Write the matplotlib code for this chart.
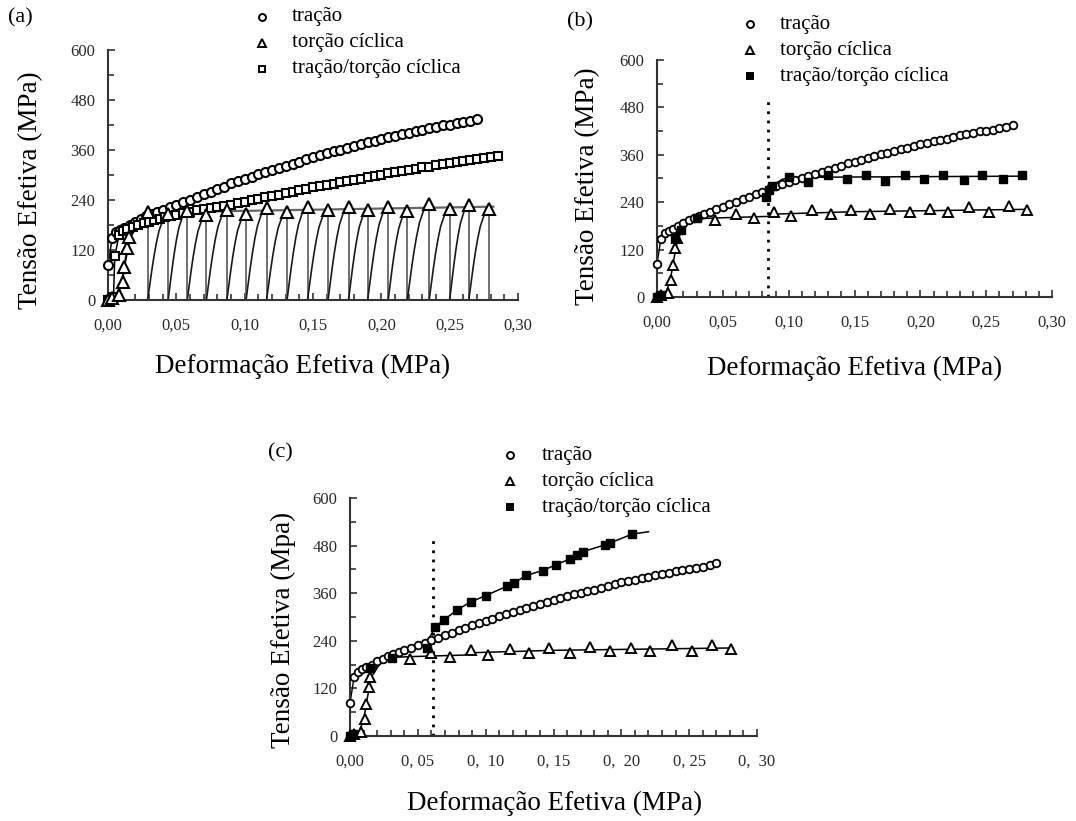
import numpy as np
import matplotlib
matplotlib.use('Agg')
import matplotlib.pyplot as plt
from matplotlib.lines import Line2D

plt.rcParams['font.family'] = ['Liberation Serif', 'DejaVu Serif']

W, H = 1076, 821

# tração (same test in the three panels)
tracao_x = [0.000, 0.003, 0.006, 0.009, 0.012, 0.016, 0.020, 0.024, 0.028, 0.032,
            0.036, 0.040, 0.045, 0.050, 0.055, 0.060, 0.065, 0.070, 0.075, 0.080,
            0.085, 0.090, 0.095, 0.100, 0.105, 0.110, 0.115, 0.120, 0.125, 0.130,
            0.135, 0.140, 0.145, 0.150, 0.155, 0.160, 0.165, 0.170, 0.175, 0.180,
            0.185, 0.190, 0.195, 0.200, 0.205, 0.210, 0.215, 0.220, 0.225, 0.230,
            0.235, 0.240, 0.245, 0.250, 0.255, 0.260, 0.265, 0.270]
tracao_y = [83, 148, 162, 168, 173, 180, 188, 195, 201, 206,
            211, 216, 223, 229, 235, 241, 248, 254, 260, 266,
            272, 280, 285, 291, 296, 302, 307, 312, 317, 322,
            327, 332, 338, 342, 347, 352, 357, 361, 365, 369,
            374, 378, 382, 387, 391, 394, 398, 401, 405, 409,
            412, 415, 419, 421, 424, 427, 430, 435]

# torção cíclica, (b) and (c)
torcao_x = [0.000, 0.003, 0.008, 0.011, 0.012, 0.014, 0.015, 0.044, 0.060, 0.074,
            0.089, 0.102, 0.118, 0.132, 0.147, 0.162, 0.177, 0.192, 0.207, 0.221,
            0.237, 0.252, 0.267, 0.281]
torcao_y = [0, 4, 11, 42, 80, 124, 150, 195, 210, 199,
            216, 205, 219, 209, 221, 209, 224, 214, 223, 214,
            229, 214, 230, 219]
torcao_fit_x = [0.000, 0.006, 0.010, 0.013, 0.016, 0.022, 0.030, 0.044, 0.084, 0.090, 0.150, 0.282]
torcao_fit_y = [0, 5, 40, 100, 150, 182, 198, 200, 204, 210, 216, 222]

# torção cíclica, panel (a): first loading + peaks of each cycle
torcao_a_x = [0.000, 0.003, 0.008, 0.011, 0.012, 0.014, 0.015]
torcao_a_y = [0, 4, 11, 42, 80, 124, 150]
pico_a_x = [0.029, 0.044, 0.058, 0.072, 0.087, 0.101, 0.116, 0.131, 0.146, 0.161,
            0.176, 0.190, 0.205, 0.219, 0.235, 0.250, 0.264, 0.279]
pico_a_y = [210, 206, 214, 204, 216, 206, 220, 212, 224, 216,
            224, 216, 224, 214, 230, 218, 227, 218]
# shape of one reloading branch (fraction of cycle width / of peak stress)
recarga_fx = [0, 0.10, 0.20, 0.31, 0.43, 0.56, 0.74, 1.0]
recarga_fy = [0, 0.17, 0.34, 0.51, 0.67, 0.81, 0.93, 1.0]
patamar_a_x = [0.029, 0.282]
patamar_a_y = [210, 224]

# tração/torção cíclica (a)
tt_a_x = [0.000, 0.002, 0.004, 0.005, 0.008, 0.011, 0.014, 0.018, 0.022, 0.026,
          0.030, 0.034, 0.038, 0.042, 0.046, 0.050, 0.055, 0.060, 0.065, 0.070,
          0.075, 0.080, 0.085, 0.090, 0.095, 0.100, 0.105, 0.110, 0.115, 0.120,
          0.125, 0.130, 0.135, 0.140, 0.145, 0.150, 0.155, 0.160, 0.165, 0.170,
          0.175, 0.180, 0.185, 0.190, 0.195, 0.200, 0.205, 0.210, 0.215, 0.220,
          0.225, 0.230, 0.235, 0.240, 0.245, 0.250, 0.255, 0.260, 0.265, 0.270,
          0.275, 0.280, 0.285]
tt_a_y = [0, 0, 8, 105, 155, 165, 170, 176, 181, 185,
          188, 192, 195, 199, 202, 205, 208, 212, 215, 218,
          221, 223, 226, 229, 232, 235, 239, 242, 246, 249,
          253, 256, 260, 263, 266, 270, 273, 276, 279, 282,
          285, 288, 291, 295, 298, 301, 304, 307, 310, 312,
          315, 318, 320, 323, 326, 329, 331, 333, 336, 338,
          340, 342, 345]

# tração/torção cíclica (b)
tt_b_x = [0.000, 0.003, 0.014, 0.018, 0.030, 0.083, 0.085, 0.087, 0.100, 0.115,
          0.130, 0.144, 0.159, 0.173, 0.188, 0.203, 0.217, 0.233, 0.247, 0.263, 0.277]
tt_b_y = [0, 4, 150, 169, 199, 253, 270, 280, 303, 291,
          310, 299, 310, 293, 310, 299, 310, 295, 310, 299, 310]
tt_b_fit_x = [0.083, 0.087, 0.095, 0.105, 0.280]
tt_b_fit_y = [266, 280, 298, 303, 306]

# tração/torção cíclica (c)
tt_c_x = [0.000, 0.002, 0.015, 0.031, 0.057, 0.063, 0.069, 0.079, 0.089, 0.100,
          0.116, 0.121, 0.130, 0.142, 0.152, 0.162, 0.167, 0.172, 0.188, 0.192, 0.208]
tt_c_y = [0, 4, 171, 196, 223, 276, 292, 318, 338, 354,
          378, 386, 405, 417, 432, 446, 457, 465, 482, 487, 509]
tt_c_fit_x = [0.057, 0.063, 0.069, 0.079, 0.089, 0.100, 0.116, 0.121, 0.130, 0.142,
              0.152, 0.162, 0.167, 0.172, 0.188, 0.192, 0.208, 0.220]
tt_c_fit_y = [238, 276, 292, 318, 338, 354, 378, 386, 405, 417,
              432, 446, 457, 465, 482, 487, 509, 515]

y_ticks = [0, 120, 240, 360, 480, 600]
x_ticks = [0.00, 0.05, 0.10, 0.15, 0.20, 0.25, 0.30]
x_labels_ab = ['0,00', '0,05', '0,10', '0,15', '0,20', '0,25', '0,30']
x_labels_c = ['0,00', '0, 05', '0,  10', '0, 15', '0,  20', '0, 25', '0,  30']
legenda = ['tração', 'torção cíclica', 'tração/torção cíclica']

fig = plt.figure(figsize=(W / 100, H / 100), dpi=100)


def eixos(left, top, right, bottom, xlabels):
    ax = fig.add_axes([left / W, 1 - bottom / H, (right - left) / W, (bottom - top) / H])
    ax.set_xlim(0, 0.30)
    ax.set_ylim(0, 600)
    for s in ['top', 'right']:
        ax.spines[s].set_visible(False)
    for s in ['left', 'bottom']:
        ax.spines[s].set_linewidth(1.5)
        ax.spines[s].set_color('#333333')
    ax.set_xticks(x_ticks)
    ax.set_xticklabels(xlabels)
    ax.set_xticks(np.arange(0, 0.301, 0.01), minor=True)
    ax.set_yticks(y_ticks)
    ax.set_yticks(np.arange(0, 601, 60), minor=True)
    ax.tick_params(which='both', direction='in', color='#333333', width=1.2,
                   labelsize=12, labelcolor='#2a2a2a')
    ax.tick_params(which='major', length=5)
    ax.tick_params(which='minor', length=4)
    ax.tick_params(axis='x', pad=13)
    ax.tick_params(axis='y', pad=9)
    ax.patch.set_alpha(0)
    return ax


def texto(x, y, s, size, **kw):
    fig.text(x / W, 1 - y / H, s, fontsize=size, **kw)


def legenda_painel(xm, xt, ys, cheio):
    estilos = [dict(marker='o', ms=5, mfc='white'),
               dict(marker='^', ms=6, mfc='white'),
               dict(marker='s', ms=5, mfc='black' if cheio else 'white')]
    for y, st, lab in zip(ys, estilos, legenda):
        fig.add_artist(Line2D([xm / W], [1 - y / H], transform=fig.transFigure,
                              mec='black', mew=1.4, ls='none', **st))
        texto(xt, y, lab, 15, va='center', ha='left')


circ = dict(marker='o', ms=6.5, mfc='white', mec='black', mew=1.5, ls='none', clip_on=False, zorder=4)
tri = dict(marker='^', ms=8, mfc='white', mec='black', mew=1.5, ls='none', clip_on=False, zorder=5)

# ---------------- (a) ----------------
ax = eixos(108, 50, 518, 300, x_labels_ab)
ax.plot(tracao_x, tracao_y, color='black', lw=1.1)
ax.plot(tracao_x, tracao_y, **circ)
ax.plot(tt_a_x, tt_a_y, color='black', lw=1.1)
ax.plot(tt_a_x, tt_a_y, marker='s', ms=6, mfc='white', mec='black', mew=1.5,
        ls='none', clip_on=False, zorder=4)
ax.plot(torcao_fit_x[:7] + [pico_a_x[0]], torcao_fit_y[:7] + [pico_a_y[0]], color='black', lw=1.6)
ax.plot(patamar_a_x, patamar_a_y, color='#666666', lw=1.6)
for i in range(len(pico_a_x)):
    ax.plot([pico_a_x[i], pico_a_x[i]], [pico_a_y[i], 0], color='#707070', lw=1.4)
    if i + 1 < len(pico_a_x):
        dx = pico_a_x[i + 1] - pico_a_x[i]
        ax.plot([pico_a_x[i] + f * dx for f in recarga_fx],
                [f * pico_a_y[i + 1] for f in recarga_fy], color='#1a1a1a', lw=1.2)
ax.plot(torcao_a_x + pico_a_x, torcao_a_y + pico_a_y, **tri)

texto(8, 18, '(a)', 16, va='center')
legenda_painel(262, 292, [17, 43, 69], False)
texto(31, 190, 'Tensão Efetiva (MPa)', 19.5, rotation=90, ha='center', va='center')
texto(303, 366, 'Deformação Efetiva (MPa)', 19.5, ha='center', va='center')

# ---------------- (b) ----------------
circ_s = dict(circ, ms=5.5, mew=1.3)
tri_s = dict(tri, ms=7, mew=1.4)
ax = eixos(657, 60, 1052, 297, x_labels_ab)
ax.plot([0.084, 0.084], [0, 500], color='black', lw=2.0, ls=(0, (1, 2.3)))
ax.plot(tracao_x, tracao_y, color='black', lw=1.0)
ax.plot(tracao_x, tracao_y, **circ_s)
ax.plot(torcao_fit_x, torcao_fit_y, color='black', lw=1.1)
ax.plot(torcao_x, torcao_y, **tri_s)
ax.plot(tt_b_fit_x, tt_b_fit_y, color='black', lw=1.1)
ax.plot(tt_b_x, tt_b_y, marker='s', ms=6, color='black', ls='none', clip_on=False, zorder=6)

texto(567, 22, '(b)', 16, va='center')
legenda_painel(750, 780, [24, 50, 76], True)
texto(588, 186, 'Tensão Efetiva (MPa)', 19.5, rotation=90, ha='center', va='center')
texto(855, 368, 'Deformação Efetiva (MPa)', 19.5, ha='center', va='center')

# ---------------- (c) ----------------
ax = eixos(350, 498, 757, 736, x_labels_c)
ax.plot([0.061, 0.061], [0, 502], color='black', lw=2.0, ls=(0, (1, 2.3)))
ax.plot(tracao_x, tracao_y, color='black', lw=1.0)
ax.plot(tracao_x, tracao_y, **circ_s)
ax.plot(torcao_fit_x, torcao_fit_y, color='black', lw=1.1)
ax.plot(torcao_x, torcao_y, **tri_s)
ax.plot(tt_c_fit_x, tt_c_fit_y, color='black', lw=1.1)
ax.plot(tt_c_x, tt_c_y, marker='s', ms=6, color='black', ls='none', clip_on=False, zorder=6)

texto(268, 453, '(c)', 16, va='center')
legenda_painel(510, 542, [455, 481, 507], True)
texto(283, 630, 'Tensão Efetiva (Mpa)', 19.5, rotation=90, ha='center', va='center')
texto(555, 803, 'Deformação Efetiva (MPa)', 19.5, ha='center', va='center')

fig.savefig('out.png', dpi=100)
